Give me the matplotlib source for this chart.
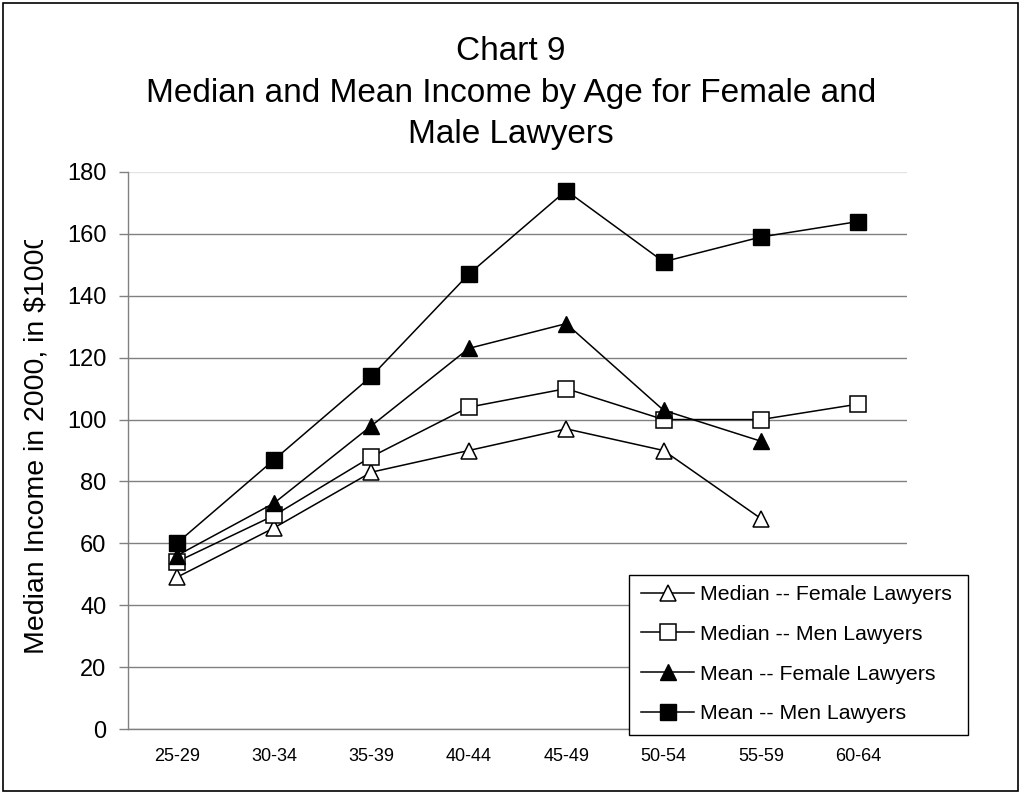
#!/usr/bin/env python3

import matplotlib
matplotlib.use('Agg')
import matplotlib.pyplot as plt
from matplotlib.patches import Rectangle
from matplotlib.transforms import Bbox, TransformedBbox

AGES = ['25-29', '30-34', '35-39', '40-44', '45-49', '50-54', '55-59', '60-64']
MEDIAN_FEMALE = [49, 65, 83, 90, 97, 90, 68]
MEDIAN_MEN = [54, 69, 88, 104, 110, 100, 100, 105]
MEAN_FEMALE = [56, 73, 98, 123, 131, 103, 93]
MEAN_MEN = [60, 87, 114, 147, 174, 151, 159, 164]

TITLE = ['Chart 9',
         'Median and Mean Income by Age for Female and',
         'Male Lawyers']
YLABEL = 'Median Income in 2000, in $1000'

W, H = 1024, 795

plt.rcParams['font.family'] = ['Liberation Sans', 'DejaVu Sans']

fig = plt.figure(figsize=(W / 100, H / 100), dpi=100)
ax = fig.add_axes([128 / W, 1 - 729 / H, (907 - 128) / W, (729 - 172) / H])

x = list(range(len(AGES)))
ms = 12
ax.plot(x[:len(MEDIAN_FEMALE)], MEDIAN_FEMALE, '-^', color='black', lw=1.1,
        ms=ms, mfc='white', mec='black', mew=1.1, label='Median -- Female Lawyers')
ax.plot(x[:len(MEDIAN_MEN)], MEDIAN_MEN, '-s', color='black', lw=1.1,
        ms=ms, mfc='white', mec='black', mew=1.1, label='Median -- Men Lawyers')
ax.plot(x[:len(MEAN_FEMALE)], MEAN_FEMALE, '-^', color='black', lw=1.1,
        ms=ms, mfc='black', mec='black', label='Mean -- Female Lawyers')
ax.plot(x[:len(MEAN_MEN)], MEAN_MEN, '-s', color='black', lw=1.1,
        ms=ms, mfc='black', mec='black', label='Mean -- Men Lawyers')

ax.set_xlim(-0.5, len(AGES) - 0.5)
ax.set_ylim(0, 180)
ax.set_yticks(range(0, 181, 20))
ax.set_xticks(x)
ax.set_xticklabels(AGES, fontsize=13)
ax.tick_params(axis='x', length=0, pad=14)
ax.tick_params(axis='y', length=6.5, width=1, color='#808080', labelsize=17, pad=9)

ax.grid(axis='y', color='#808080', lw=1)
ax.set_axisbelow(True)
ax.get_ygridlines()[-1].set_color('#e4e4e4')
for s in ['top', 'right']:
    ax.spines[s].set_visible(False)
for s in ['left', 'bottom']:
    ax.spines[s].set_color('#808080')
    ax.spines[s].set_linewidth(1)

# legend without its own frame; box drawn separately
leg = ax.legend(loc='upper left', bbox_to_anchor=(641 / W, 1 - 585 / H),
                bbox_transform=fig.transFigure, borderaxespad=0, borderpad=0,
                fontsize=15.3, frameon=False, handlelength=2.5,
                handletextpad=0.3, labelspacing=0.98)
leg.set_zorder(6)
ax.add_patch(Rectangle((629 / W, 1 - 735 / H), (968 - 629) / W, (735 - 575) / H,
                       transform=fig.transFigure, facecolor='white',
                       edgecolor='black', lw=1, zorder=5, clip_on=False))

baselines = [60, 102, 143]
for line, yb in zip(TITLE, baselines):
    fig.text(511 / W, 1 - yb / H, line, ha='center', va='baseline', fontsize=24)

yl = fig.text(37 / W, 1 - 443 / H, YLABEL, rotation=90, ha='center', va='center',
              fontsize=20.5)
yl.set_clip_box(TransformedBbox(Bbox([[0, 0], [1, 1 - 240 / H]]), fig.transFigure))
yl.set_clip_on(True)

fig.patches.append(Rectangle((3 / W, 1 - 791 / H), (1018 - 3) / W, (791 - 3) / H,
                             transform=fig.transFigure, fill=False,
                             edgecolor='black', lw=1.2))

fig.savefig('out.png', dpi=100)
